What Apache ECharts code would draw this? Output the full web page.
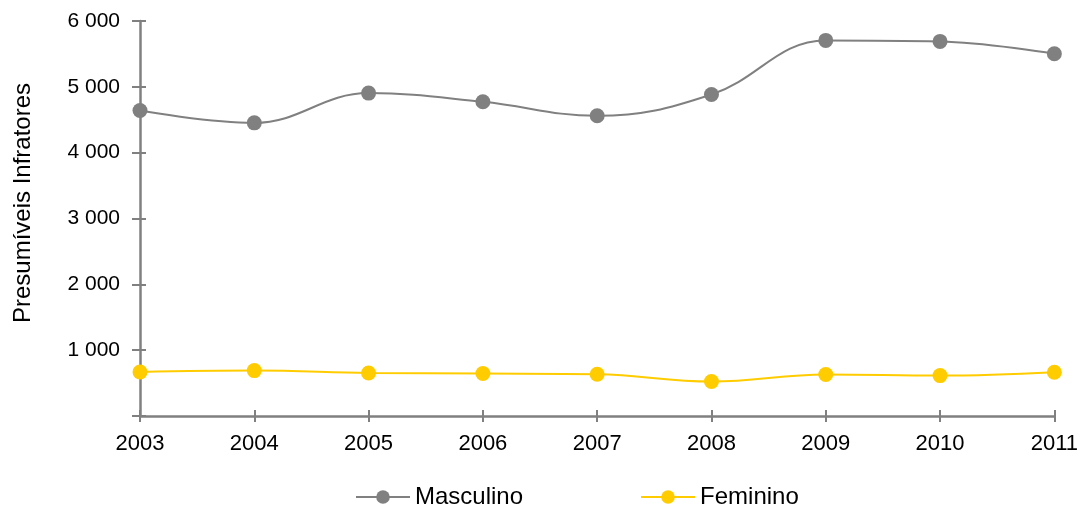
<!DOCTYPE html>
<html>
<head>
<meta charset="utf-8">
<script src="https://cdn.jsdelivr.net/npm/echarts@6/dist/echarts.min.js"></script>
<style>
  html, body { margin: 0; padding: 0; background: #ffffff; }
  #chart { width: 1081px; height: 508px; }
</style>
</head>
<body>
<div id="chart"></div>
<script>
// Years on the horizontal axis
const years = ['2003', '2004', '2005', '2006', '2007', '2008', '2009', '2010', '2011'];
// Presumed offenders by sex
const masculino = [4640, 4453, 4905, 4773, 4560, 4884, 5705, 5690, 5503];
const feminino = [669, 690, 654, 645, 634, 523, 630, 614, 665];
const yAxisTitle = 'Presumíveis Infratores';

const axisGray = '#808080';
const font = 'Liberation Sans, Arial, sans-serif';

// Thousands with a space separator; the zero tick carries no label
function fmtThousands(v) {
  if (v === 0) return '';
  return String(v).replace(/\B(?=(\d{3})+(?!\d))/g, ' ');
}

const chart = echarts.init(document.getElementById('chart'));

chart.setOption({
  animation: false,
  backgroundColor: '#ffffff',
  grid: { left: 140, right: 23, top: 21, bottom: 92 },
  graphic: [
    {
      type: 'text',
      x: 23,
      y: 203,
      rotation: Math.PI / 2,
      style: {
        text: yAxisTitle,
        fontFamily: font,
        fontSize: 24,
        fill: '#000',
        align: 'center',
        verticalAlign: 'middle'
      }
    }
  ],
  legend: {
    left: 350,
    top: 480,
    itemWidth: 54,
    itemHeight: 17,
    itemGap: 117,
    textStyle: { fontFamily: font, fontSize: 24, color: '#000' },
    data: ['Masculino', 'Feminino']
  },
  xAxis: [
    {
      type: 'category',
      data: years,
      boundaryGap: false,
      axisLine: { lineStyle: { color: axisGray, width: 2.5 } },
      axisTick: { show: true, length: 6, lineStyle: { color: axisGray, width: 2 } },
      axisLabel: { fontFamily: font, fontSize: 22, color: '#000', margin: 17 }
    },
    {
      // inner half of the crossing tick marks
      type: 'category',
      data: years,
      boundaryGap: false,
      position: 'bottom',
      axisLine: { show: false },
      axisTick: { show: true, inside: true, length: 6, lineStyle: { color: axisGray, width: 2 } },
      axisLabel: { show: false }
    }
  ],
  yAxis: [
    {
      type: 'value',
      min: 0,
      max: 6000,
      interval: 1000,
      axisLine: { show: true, lineStyle: { color: axisGray, width: 2.5 } },
      axisTick: { show: true, length: 8, lineStyle: { color: axisGray, width: 2 } },
      splitLine: { show: false },
      axisLabel: { fontFamily: font, fontSize: 21, color: '#000', margin: 20, formatter: fmtThousands }
    },
    {
      // inner half of the crossing tick marks
      type: 'value',
      min: 0,
      max: 6000,
      interval: 1000,
      position: 'left',
      axisLine: { show: false },
      axisTick: { show: true, inside: true, length: 6, lineStyle: { color: axisGray, width: 2 } },
      splitLine: { show: false },
      axisLabel: { show: false }
    }
  ],
  series: [
    {
      name: 'Masculino',
      type: 'line',
      data: masculino,
      smooth: 0.4,
      symbol: 'circle',
      symbolSize: 15,
      lineStyle: { color: '#808080', width: 2 },
      itemStyle: { color: '#808080' }
    },
    {
      name: 'Feminino',
      type: 'line',
      data: feminino,
      smooth: 0.4,
      symbol: 'circle',
      symbolSize: 15,
      lineStyle: { color: '#FFCC00', width: 2 },
      itemStyle: { color: '#FFCC00' }
    }
  ]
});
</script>
</body>
</html>
